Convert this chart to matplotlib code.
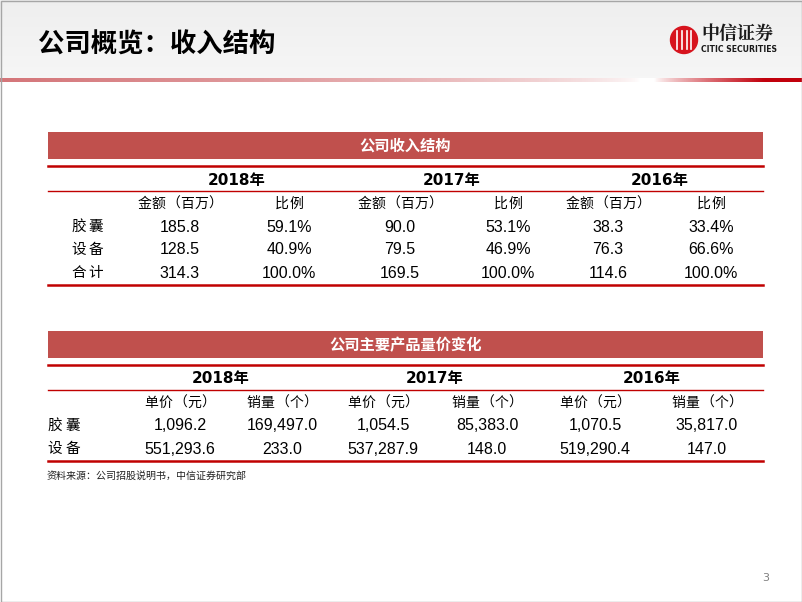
import numpy as np
import matplotlib.pyplot as plt
from matplotlib.patches import Rectangle, Circle

plt.rcParams['font.family'] = ['DejaVu Sans', 'Noto Sans CJK SC']

# Data
title = "公司概览：收入结构"
years = ["2018年", "2017年", "2016年"]

rev_title = "公司收入结构"
rev_cols = ["金额（百万）", "比例"]
rev_items = ["胶囊", "设备", "合计"]
rev_amount = [[185.8, 90.0, 38.3], [128.5, 79.5, 76.3], [314.3, 169.5, 114.6]]
rev_share = [[59.1, 53.1, 33.4], [40.9, 46.9, 66.6], [100.0, 100.0, 100.0]]

pv_title = "公司主要产品量价变化"
pv_cols = ["单价（元）", "销量（个）"]
pv_items = ["胶囊", "设备"]
unit_price = [[1096.2, 1054.5, 1070.5], [551293.6, 537287.9, 519290.4]]
volume = [[169497.0, 85383.0, 35817.0], [233.0, 148.0, 147.0]]

source = "资料来源：公司招股说明书，中信证券研究部"

red_band = "#c0504d"
red_line = "#c00000"
cjk = ['Noto Sans CJK SC']
num_font = ['Liberation Sans', 'DejaVu Sans']

fig = plt.figure(figsize=(8.02, 6.02), dpi=100)
ax = fig.add_axes([0, 0, 1, 1])
ax.set_xlim(0, 802)
ax.set_ylim(602, 0)
ax.axis("off")

# Slide header: gray background and gradient red rule
grad = np.linspace(0.935, 0.965, 50)[:, None] * np.ones((50, 10))
ax.imshow(np.dstack([grad] * 3), extent=[0, 802, 78, 0], aspect="auto", zorder=0)
xs = np.linspace(0, 802, 400)
alpha = np.where(xs < 640, 0.75 * np.clip(1 - xs / 640, 0, 1) ** 0.6,
                 np.clip((xs - 655) / 110, 0, 1) ** 0.8)
rule = np.zeros((1, 400, 4))
rule[..., 0] = np.where(xs < 640, 0.78, 0.76)
rule[..., 1] = np.where(xs < 640, 0.28, 0.0)
rule[..., 2] = np.where(xs < 640, 0.30, 0.05)
rule[..., 3] = alpha
ax.imshow(rule, extent=[0, 802, 82, 78], aspect="auto", zorder=1)
ax.add_patch(Rectangle((0.5, 0.5), 801, 601, fill=False, ec="#a6a6a6", lw=1, zorder=5))

ax.text(38, 45, title, fontsize=19, fontweight="bold", family=cjk, va="center", ha="left")

# Logo
ax.add_patch(Circle((684, 40), 13.5, color="#d7141e", zorder=2))
for dx in (-7, -2.5, 2.5, 7):
    ax.plot([684 + dx, 684 + dx], [31, 49], color="white", lw=1.2, zorder=3)
ax.text(701, 34, "中信证券", fontsize=13, fontweight="bold", family=['Noto Serif CJK SC', 'Noto Sans CJK SC'],
        va="center", ha="left", color="#1a1a1a")
ax.text(701, 50, "CITIC SECURITIES", fontsize=5.6, fontweight="bold", va="center", ha="left", color="#1a1a1a")


def spaced(xc, y, s, pitch, size=10):
    # one character per cell, evenly pitched like the slide's CJK font
    x0 = xc - pitch * (len(s) - 1) / 2
    for i, ch in enumerate(s):
        ax.text(x0 + i * pitch, y, ch, fontsize=size, family=cjk, ha="center", va="center")


def draw_table(top, band_title, cols, items, vals_a, vals_b, fmt_a, fmt_b,
               col_x, year_x, label_x, label_pitch, row_gap):
    left, right = 48, 763
    ax.add_patch(Rectangle((left, top), right - left, 27, color=red_band, lw=0))
    ax.text((left + right) / 2, top + 14, band_title, color="white", fontsize=11,
            fontweight="bold", family=cjk, ha="center", va="center")
    y_line1 = top + 34
    ax.plot([left, right], [y_line1, y_line1], color=red_line, lw=1.8)
    y_year = y_line1 + 14
    for yx, yr in zip(year_x, years):
        ax.text(yx, y_year, yr, fontsize=11, fontweight="bold", ha="center", va="center")
    y_line2 = y_line1 + 25
    ax.plot([left, right], [y_line2, y_line2], color=red_line, lw=1.0)
    y_head = y_line2 + 13
    for k in range(3):
        for j, c in enumerate(cols):
            spaced(col_x[2 * k + j], y_head, c, 14.3)
    y_row = y_head + row_gap
    for i, item in enumerate(items):
        spaced(label_x, y_row, item, label_pitch, size=10.5)
        for k in range(3):
            ax.text(col_x[2 * k], y_row, fmt_a(vals_a[i][k]), fontsize=11.5,
                    family=num_font, ha="center", va="center")
            ax.text(col_x[2 * k + 1], y_row, fmt_b(vals_b[i][k]), fontsize=11.5,
                    family=num_font, ha="center", va="center")
        y_row += row_gap
    y_bot = y_row - row_gap + 12
    ax.plot([left, right], [y_bot, y_bot], color=red_line, lw=1.8)
    return y_bot


draw_table(132, rev_title, rev_cols, rev_items, rev_amount, rev_share,
           lambda v: f"{v:.1f}", lambda v: f"{v:.1f}%",
           [180, 289, 400, 508, 608, 711], [237, 452, 660], 87, 17, 23)

y_end = draw_table(331, pv_title, pv_cols, pv_items, unit_price, volume,
                   lambda v: f"{v:,.1f}", lambda v: f"{v:,.1f}",
                   [180, 282, 383, 487, 595, 707], [221, 435, 652], 64, 18, 23)

ax.text(47, y_end + 15, source, fontsize=7.2, family=cjk, ha="left", va="center", color="#222222")
ax.text(766, 578, "3", fontsize=8, color="#7f7f7f", ha="center", va="center")

fig.savefig("out.png", dpi=100)
